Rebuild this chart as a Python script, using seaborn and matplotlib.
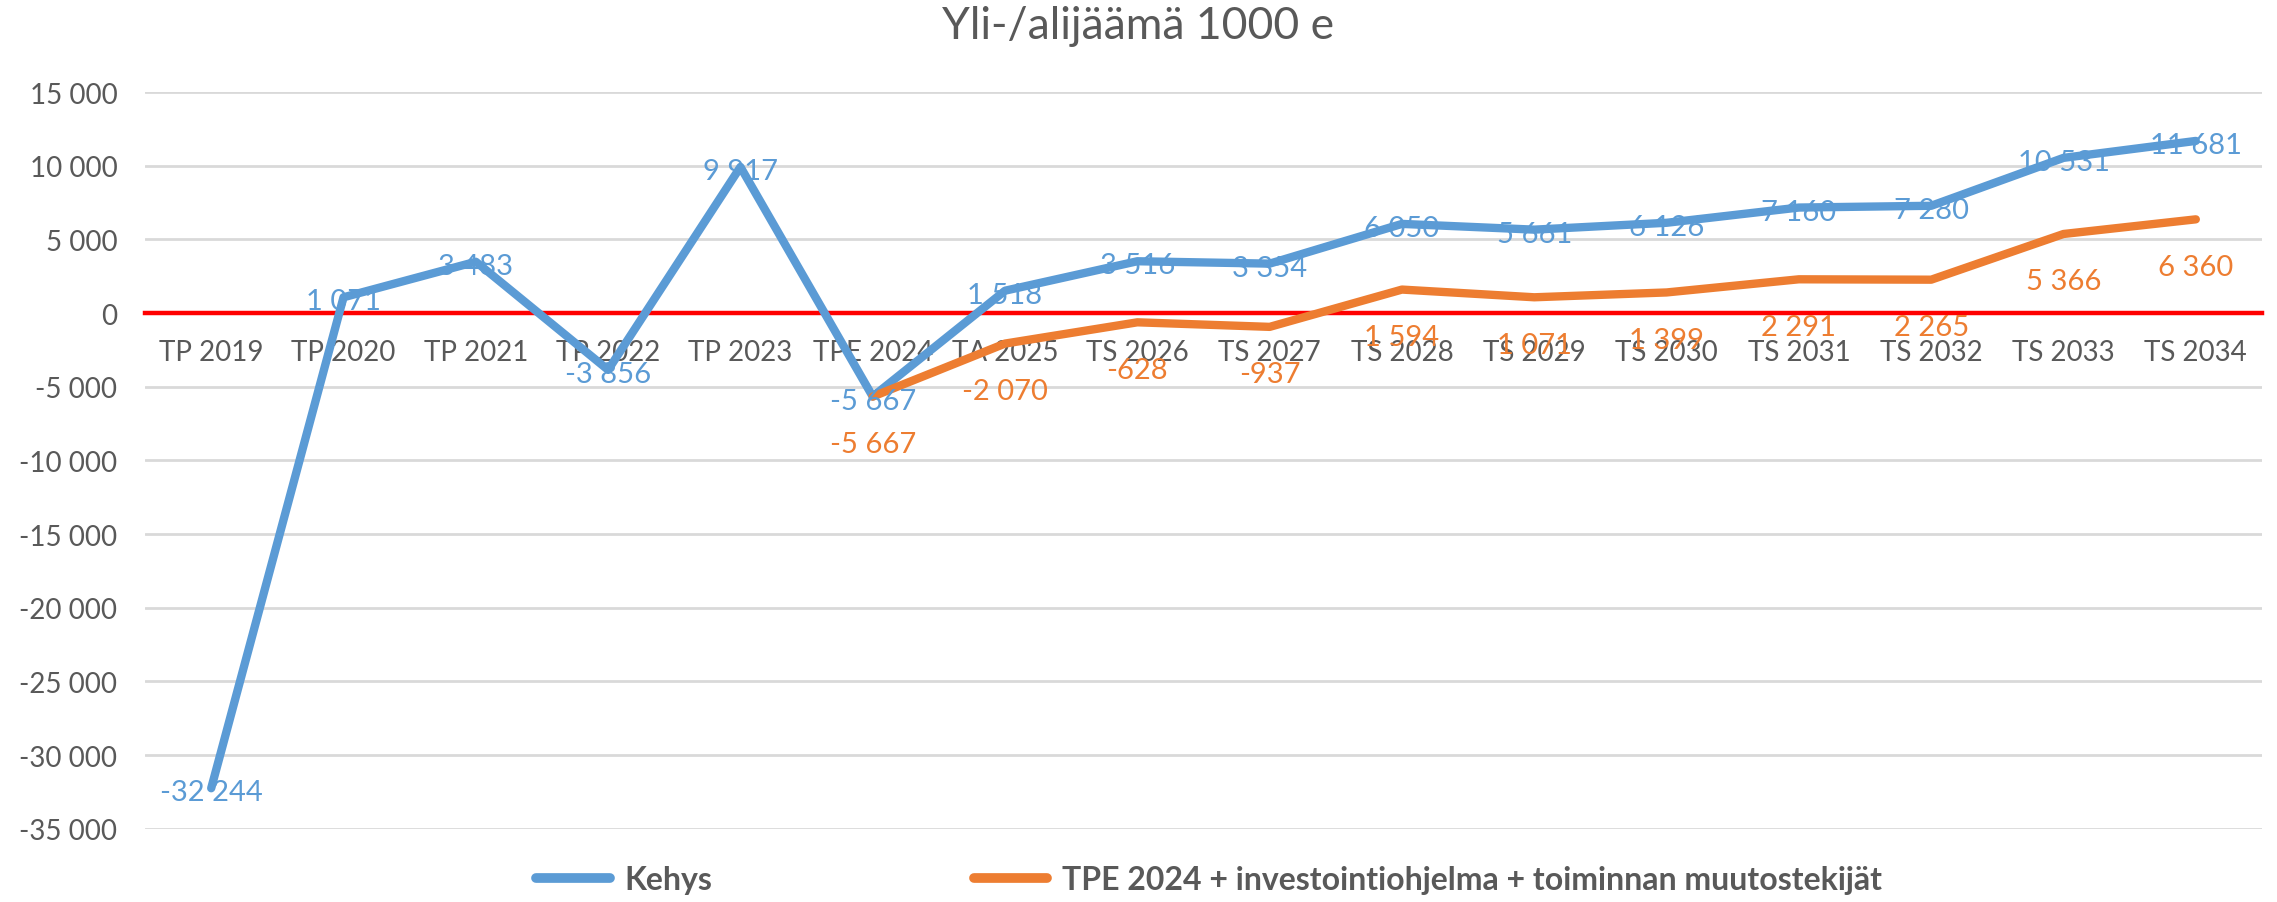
import numpy as np
import pandas as pd
import matplotlib
matplotlib.use("Agg")
import matplotlib.pyplot as plt
import seaborn as sns
from matplotlib.ticker import FuncFormatter, MultipleLocator

# Tiedot
vuodet = ["TP 2019", "TP 2020", "TP 2021", "TP 2022", "TP 2023", "TPE 2024", "TA 2025",
          "TS 2026", "TS 2027", "TS 2028", "TS 2029", "TS 2030", "TS 2031", "TS 2032",
          "TS 2033", "TS 2034"]
kehys = [-32244, 1071, 3483, -3856, 9917, -5667, 1518, 3516, 3354, 6050, 5661, 6126,
         7160, 7280, 10531, 11681]
tpe = [np.nan, np.nan, np.nan, np.nan, np.nan, -5667, -2070, -628, -937, 1594, 1071,
       1399, 2291, 2265, 5366, 6360]
sarjat = ["Kehys", "TPE 2024 + investointiohjelma + toiminnan muutostekijät"]

SININEN = "#5B9BD5"
ORANSSI = "#ED7D31"
HARMAA = "#595959"

df = pd.DataFrame({
    "vuosi": vuodet * 2,
    "arvo": kehys + tpe,
    "sarja": [sarjat[0]] * len(vuodet) + [sarjat[1]] * len(vuodet),
})

sns.set_style("white")
plt.rcParams["font.family"] = ["Lato", "DejaVu Sans"]


def muotoile(v, pos=None):
    return f"{int(round(v)):,}".replace(",", " ")


fig = plt.figure(figsize=(22.77, 9.03), dpi=100)
ax = fig.add_axes([0.0637, 0.081, 0.9297, 0.816])

sns.lineplot(data=df, x="vuosi", y="arvo", hue="sarja", palette=[SININEN, ORANSSI],
             linewidth=6, sort=False, ax=ax, legend=False)

ax.set_xlim(-0.5, len(vuodet) - 0.5)
ax.set_ylim(-35000, 15000)
ax.yaxis.set_major_locator(MultipleLocator(5000))
ax.yaxis.set_major_formatter(FuncFormatter(muotoile))
ax.grid(axis="y", color="#D9D9D9", linewidth=2)
ax.set_axisbelow(True)

for s in ["top", "right", "left"]:
    ax.spines[s].set_visible(False)
ax.spines["bottom"].set_position(("data", 0))
ax.spines["bottom"].set_color("#FF0000")
ax.spines["bottom"].set_linewidth(3.2)
ax.spines["bottom"].set_zorder(1.5)

ax.set_xlabel("")
ax.set_ylabel("")
ax.tick_params(axis="x", length=0, pad=19, labelsize=20, labelcolor=HARMAA)
ax.tick_params(axis="y", length=0, pad=20, labelsize=20, labelcolor=HARMAA)

# Arvojen merkinnät
for i, v in enumerate(kehys):
    ax.annotate(muotoile(v), (i, v), xytext=(0, -3), textcoords="offset points",
                ha="center", va="center", fontsize=21, color=SININEN)
for i, v in enumerate(tpe):
    if np.isnan(v):
        continue
    ax.annotate(muotoile(v), (i, v), xytext=(0, -34), textcoords="offset points",
                ha="center", va="center", fontsize=21, color=ORANSSI)

fig.text(0.5, 0.971, "Yli-/alijäämä 1000 e", ha="center", va="center",
         fontsize=32, color=HARMAA)

kahvat = [plt.Line2D([], [], color=SININEN, linewidth=7),
          plt.Line2D([], [], color=ORANSSI, linewidth=7)]
leg = fig.legend(kahvat, sarjat, loc="center", bbox_to_anchor=(0.531, 0.025), ncol=2,
                 frameon=False, handlelength=2.3, handletextpad=0.45, columnspacing=8.2,
                 prop={"size": 23, "weight": "bold"})
for t in leg.get_texts():
    t.set_color(HARMAA)

fig.savefig("out.png", dpi=100)
